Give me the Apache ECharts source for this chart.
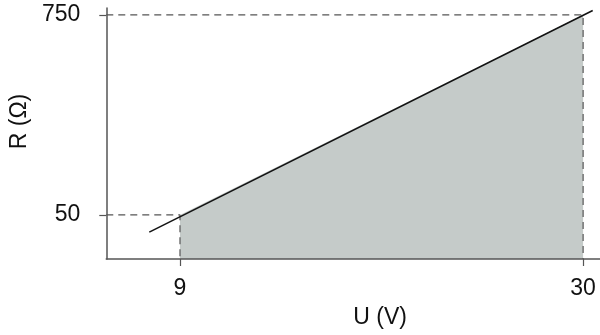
<!DOCTYPE html>
<html>
<head>
<meta charset="utf-8">
<script src="https://cdn.jsdelivr.net/npm/echarts@6/dist/echarts.min.js"></script>
<style>
  html, body { margin: 0; padding: 0; background: #fff; }
  #chart { width: 600px; height: 335px; }
</style>
</head>
<body>
<div id="chart"></div>
<script>
// axis range
const xRange = [5.16, 30.88]
const yRange = [-104, 774]
const xTicks = [9, 30]
const yTicks = [50, 750]

// shaded region between U = 9 and U = 30
const areaPoints = [[9, 50], [30, 750]]
// the R(U) line, running a bit past both ends
const linePoints = [[7.4, -10], [30.5, 765]]
// dashed guides
const guideLow = [[xRange[0], 50], [9, 50], [9, yRange[0]]]
const guideHigh = [[xRange[0], 750], [30, 750], [30, yRange[0]]]

const font = 'Liberation Sans, Arial, Helvetica, sans-serif'
const axisColor = '#555'
const dash = [7, 5]

const chart = echarts.init(document.getElementById('chart'))

function guide(data) {
  return {
    type: 'line',
    data: data,
    symbol: 'none',
    silent: true,
    z: 1,
    lineStyle: { color: axisColor, width: 1.2, type: dash }
  }
}

chart.setOption({
  animation: false,
  grid: { left: 106, right: 0, top: 8, bottom: 76 },
  xAxis: {
    type: 'value',
    min: xRange[0],
    max: xRange[1],
    name: 'U (V)',
    nameLocation: 'middle',
    nameGap: 47,
    nameTextStyle: { fontFamily: font, fontSize: 23, color: '#111', padding: [0, 0, 0, 54] },
    axisLine: { show: true, onZero: false, lineStyle: { color: axisColor, width: 1.5 } },
    axisTick: { show: true, customValues: xTicks, length: 10, lineStyle: { color: axisColor, width: 1.2, type: dash } },
    axisLabel: { customValues: xTicks, margin: 18, fontFamily: font, fontSize: 23, color: '#111' },
    splitLine: { show: false }
  },
  yAxis: {
    type: 'value',
    min: yRange[0],
    max: yRange[1],
    name: 'R (Ω)',
    nameLocation: 'middle',
    nameGap: 74,
    nameTextStyle: { fontFamily: font, fontSize: 23, color: '#111', padding: [0, 0, 0, 24] },
    axisLine: { show: true, onZero: false, lineStyle: { color: axisColor, width: 1.5 } },
    axisTick: { show: true, customValues: yTicks, length: 10, lineStyle: { color: axisColor, width: 1.2, type: dash } },
    axisLabel: { customValues: yTicks, margin: 26, fontFamily: font, fontSize: 23, color: '#111' },
    splitLine: { show: false }
  },
  series: [
    {
      type: 'line',
      data: areaPoints,
      symbol: 'none',
      silent: true,
      z: 0,
      lineStyle: { width: 0 },
      areaStyle: { color: '#c5cbc9', opacity: 1, origin: 'start' }
    },
    guide(guideLow),
    guide(guideHigh),
    {
      type: 'line',
      data: linePoints,
      symbol: 'none',
      silent: true,
      z: 3,
      lineStyle: { color: '#111', width: 1.6 }
    }
  ]
})
</script>
</body>
</html>
